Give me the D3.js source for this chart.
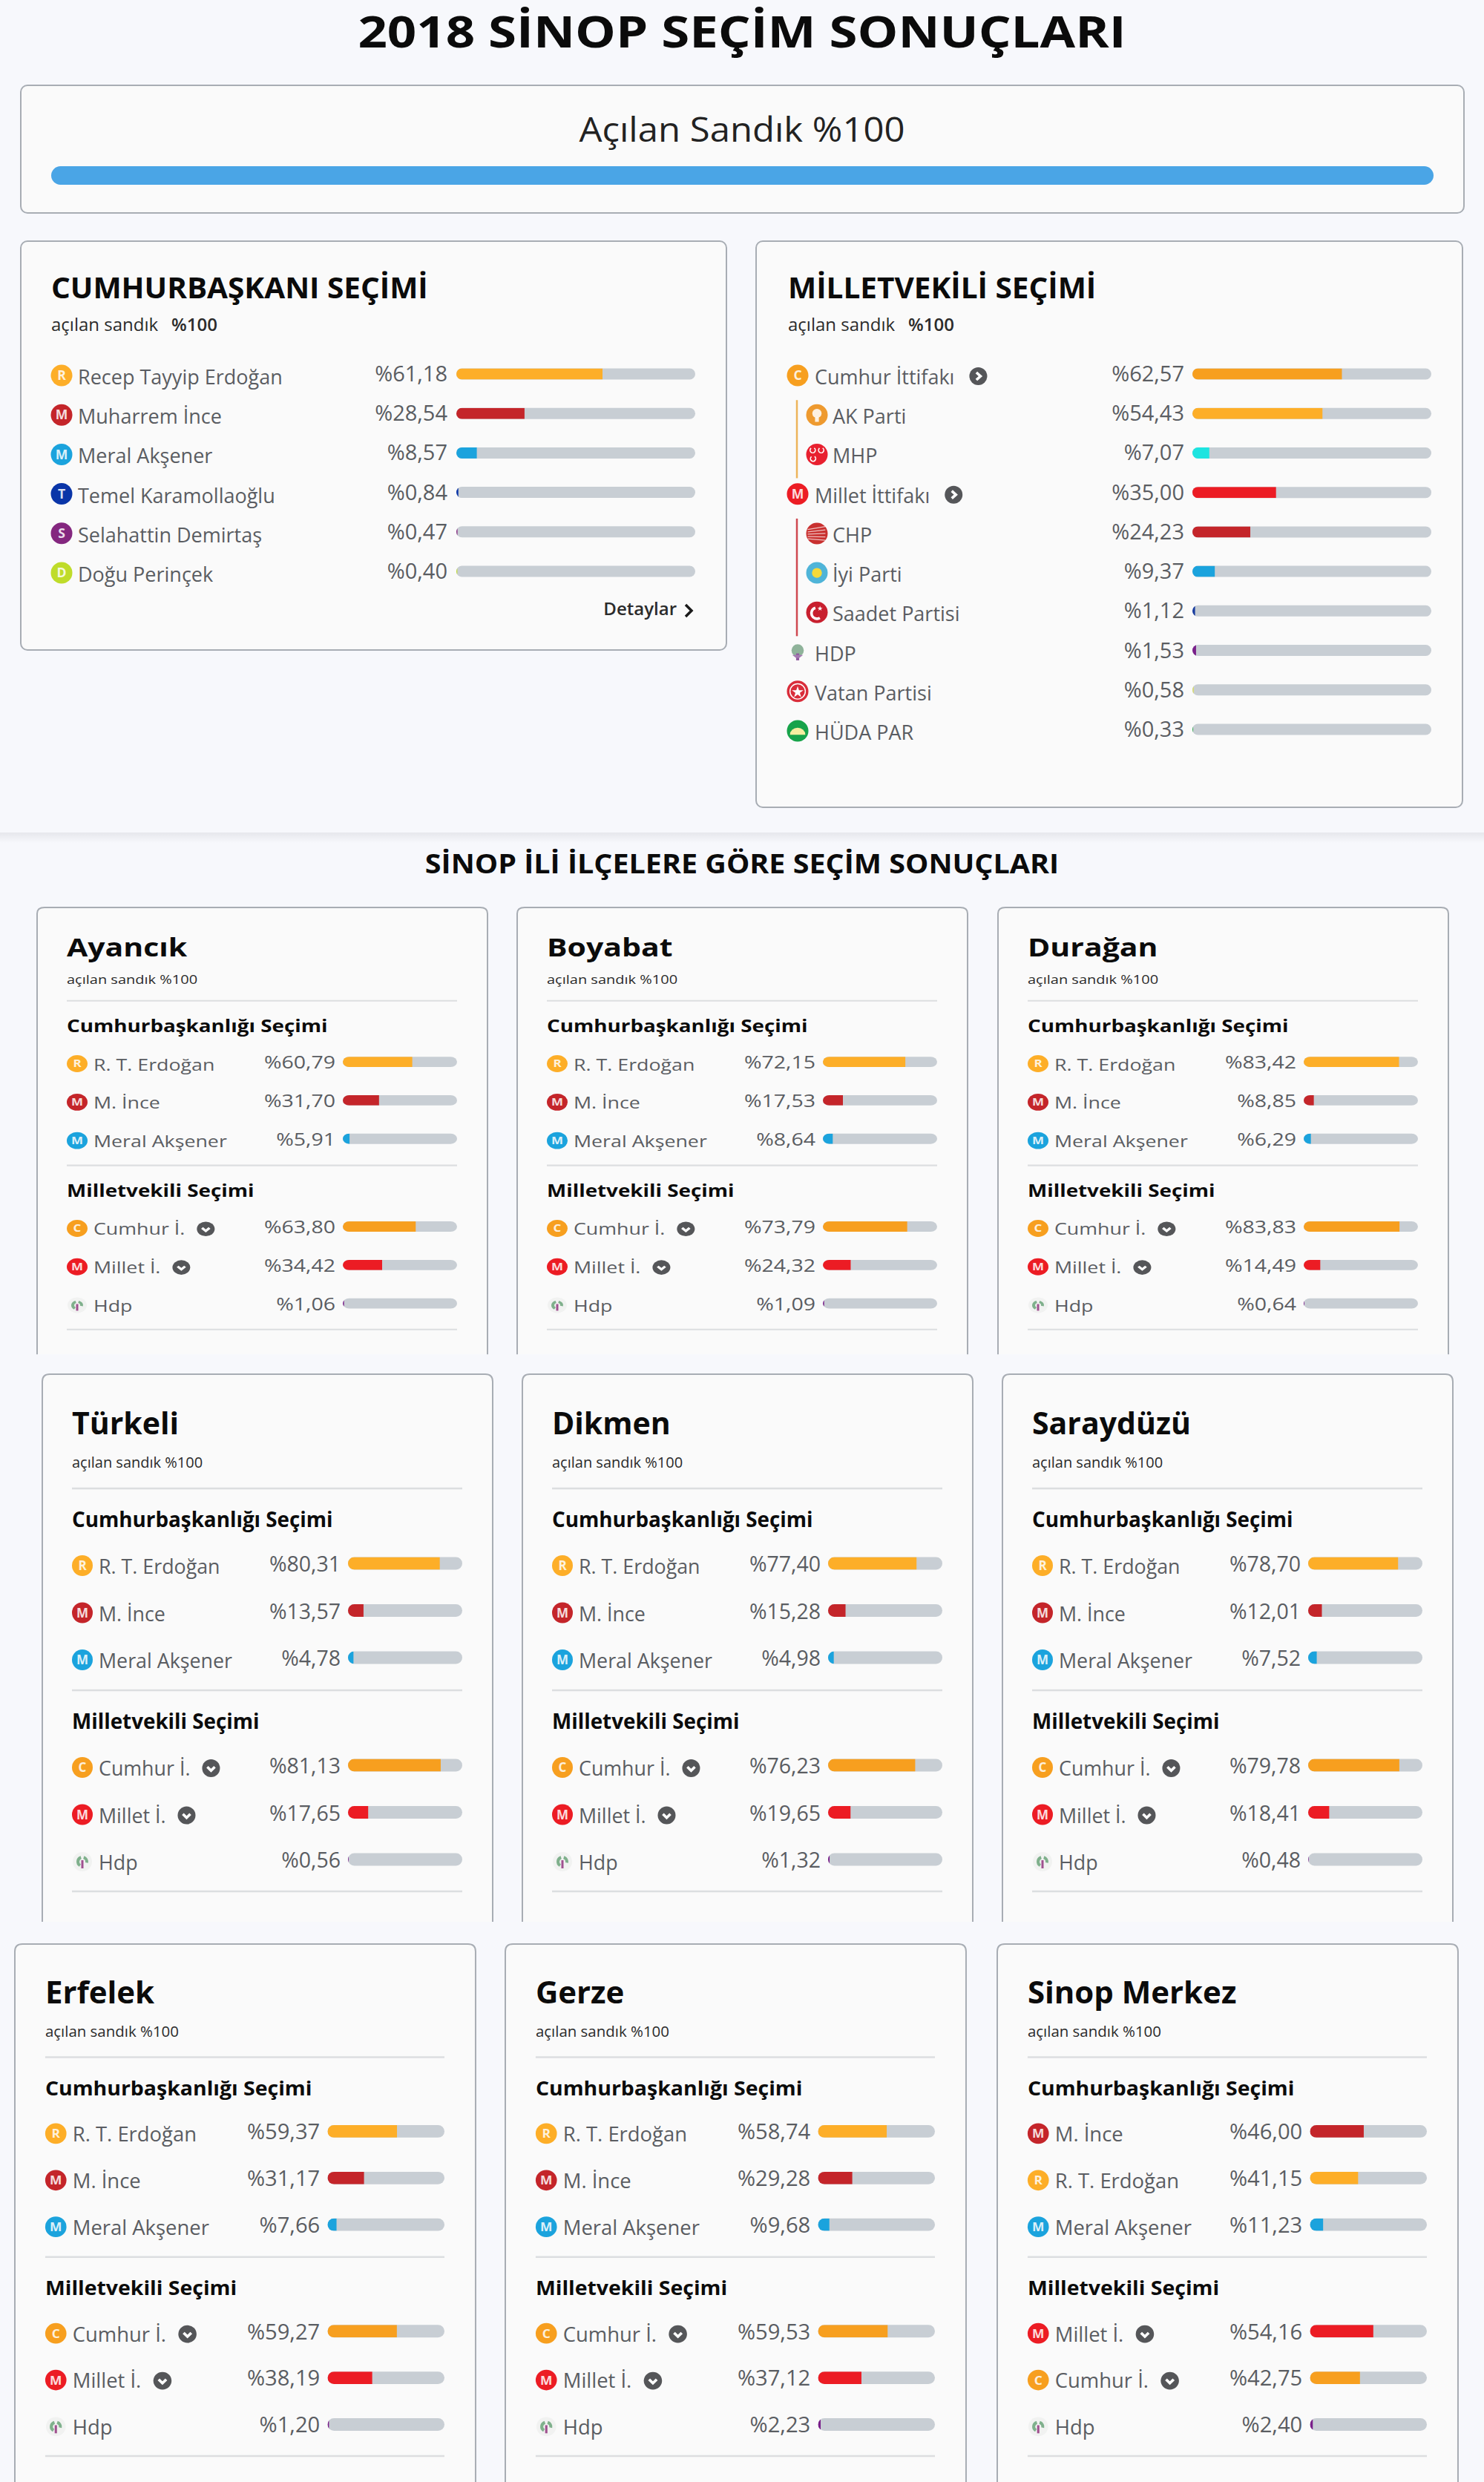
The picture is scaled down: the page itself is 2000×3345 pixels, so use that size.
<!DOCTYPE html>
<html lang="tr">
<head>
<meta charset="utf-8">
<title>2018 Sinop Seçim Sonuçları</title>
<script src="https://cdn.jsdelivr.net/npm/d3@7"></script>
<style>
  html, body { margin: 0; padding: 0; background: #f7f8fc; }
  svg { display: block; font-family: "Open Sans", sans-serif; }
</style>
</head>
<body>
<svg id="chart" width="2000" height="3345"></svg>
<script>
// values
const pageTitle = "2018 SİNOP SEÇİM SONUÇLARI";
const sectionTitle = "SİNOP İLİ İLÇELERE GÖRE SEÇİM SONUÇLARI";
const openedBallots = 100;

const presidentNames = ["Recep Tayyip Erdoğan", "Muharrem İnce", "Meral Akşener", "Temel Karamollaoğlu", "Selahattin Demirtaş", "Doğu Perinçek"];
const presidentValues = [61.18, 28.54, 8.57, 0.84, 0.47, 0.40];

const assemblyNames = ["Cumhur İttifakı", "AK Parti", "MHP", "Millet İttifakı", "CHP", "İyi Parti", "Saadet Partisi", "HDP", "Vatan Partisi", "HÜDA PAR"];
const assemblyValues = [62.57, 54.43, 7.07, 35.00, 24.23, 9.37, 1.12, 1.53, 0.58, 0.33];
const assemblyParents = ["", "Cumhur İttifakı", "Cumhur İttifakı", "", "Millet İttifakı", "Millet İttifakı", "Millet İttifakı", "", "", ""];

const districts = ["Ayancık", "Boyabat", "Durağan", "Türkeli", "Dikmen", "Saraydüzü", "Erfelek", "Gerze", "Sinop Merkez"];
const districtPresidentNames = ["R. T. Erdoğan", "M. İnce", "Meral Akşener"];
const districtPresidentValues = [
  [60.79, 31.70, 5.91],
  [72.15, 17.53, 8.64],
  [83.42, 8.85, 6.29],
  [80.31, 13.57, 4.78],
  [77.40, 15.28, 4.98],
  [78.70, 12.01, 7.52],
  [59.37, 31.17, 7.66],
  [58.74, 29.28, 9.68],
  [41.15, 46.00, 11.23],
];
const districtAssemblyNames = ["Cumhur İ.", "Millet İ.", "Hdp"];
const districtAssemblyValues = [
  [63.80, 34.42, 1.06],
  [73.79, 24.32, 1.09],
  [83.83, 14.49, 0.64],
  [81.13, 17.65, 0.56],
  [76.23, 19.65, 1.32],
  [79.78, 18.41, 0.48],
  [59.27, 38.19, 1.20],
  [59.53, 37.12, 2.23],
  [42.75, 54.16, 2.40],
];

// colours and icons per name
const looks = {
  "Recep Tayyip Erdoğan": { color: "#fdae28", icon: "R" },
  "Muharrem İnce": { color: "#c4252a", icon: "M" },
  "Meral Akşener": { color: "#1ba3dd", icon: "M" },
  "Temel Karamollaoğlu": { color: "#0a35a8", icon: "T" },
  "Selahattin Demirtaş": { color: "#84277f", icon: "S" },
  "Doğu Perinçek": { color: "#bfdc2a", icon: "D" },
  "Cumhur İttifakı": { color: "#f79f1f", icon: "C", button: "right" },
  "AK Parti": { color: "#fdae28", icon: "ak", disc: "#ee9a2f" },
  "MHP": { color: "#1de4e0", icon: "mhp", disc: "#e8202f" },
  "Millet İttifakı": { color: "#ec1c24", icon: "M", button: "right" },
  "CHP": { color: "#c4252a", icon: "chp", disc: "#c9302f" },
  "İyi Parti": { color: "#1ba3dd", icon: "iyi", disc: "#4fb4d8" },
  "Saadet Partisi": { color: "#1a3da0", icon: "saadet", disc: "#c8202f" },
  "HDP": { color: "#7a1f8a", icon: "hdp" },
  "Vatan Partisi": { color: "#d8dc70", icon: "vatan", disc: "#d92d3a" },
  "HÜDA PAR": { color: "#2aa84a", icon: "huda", disc: "#17a34a" },
  "R. T. Erdoğan": { color: "#fdae28", icon: "R" },
  "M. İnce": { color: "#c4252a", icon: "M" },
  "Cumhur İ.": { color: "#f79f1f", icon: "C", button: "down" },
  "Millet İ.": { color: "#ec1c24", icon: "M", button: "down" },
  "Hdp": { color: "#7a1f8a", icon: "hdpSmall" },
};

const TEXT_DARK = "#0b0b0b";
const TEXT_GREY = "#5a5d62";
const TRACK = "#c8ced4";
const BORDER = "#a8adb4";
const CARD_FILL = "#fafafa";
const RULE = "#dcdee0";

const svg = d3.select("#chart");
const defs = svg.append("defs");
let clipCount = 0;

const pct = d3.format(".2f");
const percentLabel = (v) => "%" + pct(v).replace(".", ",");

// ---- small drawing helpers ----

function addText(g, str, x, y, size, weight, fill, anchor) {
  return g.append("text")
    .attr("x", x).attr("y", y)
    .attr("font-size", size)
    .attr("font-weight", weight)
    .attr("fill", fill)
    .attr("text-anchor", anchor || "start")
    .text(str);
}

// the picture's big headings are wider than the font, so stretch them sideways
function addWideText(g, str, x, y, size, stretch, weight, fill, anchor) {
  return addText(g, str, 0, 0, size, weight, fill, anchor)
    .attr("transform", `translate(${x},${y}) scale(${stretch},1)`);
}

function addBar(g, value, x0, x1, cy, h, color) {
  const x = d3.scaleLinear().domain([0, 100]).range([x0, x1]);
  const id = "barclip" + clipCount++;
  defs.append("clipPath").attr("id", id).append("rect")
    .attr("x", x0).attr("y", cy - h / 2)
    .attr("width", x1 - x0).attr("height", h).attr("rx", h / 2);
  g.append("rect")
    .attr("x", x0).attr("y", cy - h / 2)
    .attr("width", x1 - x0).attr("height", h).attr("rx", h / 2)
    .attr("fill", TRACK);
  g.append("rect")
    .attr("clip-path", `url(#${id})`)
    .attr("x", x0).attr("y", cy - h / 2)
    .attr("width", x(value) - x0).attr("height", h)
    .attr("fill", color);
}

function addIcon(g, name, cx, cy, r) {
  const look = looks[name];
  const icon = g.append("g").attr("transform", `translate(${cx},${cy}) scale(${r / 14})`);
  const white = "#ffffff";
  if (look.icon.length === 1) {
    icon.append("circle").attr("r", 14).attr("fill", look.color);
    icon.append("text").attr("y", 6).attr("text-anchor", "middle")
      .attr("font-size", 17).attr("font-weight", 700).attr("fill", "#fff").attr("fill-opacity", 0.85)
      .text(look.icon);
    return;
  }
  const arc = d3.arc();
  if (look.disc) icon.append("circle").attr("r", 14).attr("fill", look.disc);
  if (look.icon === "ak") {
    icon.append("circle").attr("cy", -2).attr("r", 6).attr("fill", white).attr("fill-opacity", 0.85);
    icon.append("rect").attr("x", -2.5).attr("y", 3).attr("width", 5).attr("height", 6).attr("fill", white).attr("fill-opacity", 0.85);
  } else if (look.icon === "mhp") {
    [[-5.5, -5.5], [5.5, -5.5], [-5, 5.5]].forEach(([dx, dy]) => {
      icon.append("path")
        .attr("d", arc({ innerRadius: 2.6, outerRadius: 4.2, startAngle: 0.6, endAngle: 5.6 }))
        .attr("transform", `translate(${dx},${dy})`)
        .attr("fill", white);
    });
  } else if (look.icon === "chp") {
    d3.range(5).forEach((i) => {
      icon.append("line").attr("x1", -12).attr("x2", 11)
        .attr("y1", -5 + i * 3).attr("y2", -9 + i * 4.5)
        .attr("stroke", white).attr("stroke-opacity", 0.7).attr("stroke-width", 1.2);
    });
  } else if (look.icon === "iyi") {
    icon.append("circle").attr("r", 6.5).attr("fill", "#f5d93a");
  } else if (look.icon === "saadet") {
    icon.append("path")
      .attr("d", arc({ innerRadius: 5.5, outerRadius: 9, startAngle: 2.6, endAngle: 6 }))
      .attr("transform", "translate(0,1)").attr("fill", white);
    icon.append("path").attr("d", d3.symbol(d3.symbolStar, 14)()).attr("transform", "translate(4,-5)").attr("fill", white);
  } else if (look.icon === "hdp") {
    icon.append("circle").attr("cy", -2).attr("r", 8).attr("fill", "#8fb39a");
    icon.append("rect").attr("x", -2).attr("y", 2).attr("width", 4).attr("height", 9).attr("fill", "#8f5a9e");
    icon.append("path").attr("d", "M-7,4 H7 L2,8 H-2 Z").attr("fill", "#a57ab2");
  } else if (look.icon === "hdpSmall") {
    icon.append("circle").attr("r", 13).attr("fill", "#f1f2f1");
    icon.append("path").attr("d", arc({ innerRadius: 4, outerRadius: 8, startAngle: -2.6, endAngle: -0.3 })).attr("fill", "#7fb08c");
    icon.append("path").attr("d", arc({ innerRadius: 4, outerRadius: 8, startAngle: 0.3, endAngle: 1.8 })).attr("fill", "#7fb08c");
    icon.append("rect").attr("x", -1.5).attr("y", -2).attr("width", 3).attr("height", 11).attr("fill", "#a0508f");
  } else if (look.icon === "vatan") {
    icon.append("circle").attr("r", 10).attr("fill", "none").attr("stroke", white).attr("stroke-width", 1.4);
    icon.append("path").attr("d", d3.symbol(d3.symbolStar, 70)()).attr("transform", "translate(0,1)").attr("fill", white);
  } else if (look.icon === "huda") {
    icon.append("path").attr("d", "M-10,5 A10,9 0 0 1 10,5 Z").attr("fill", "#f6eea0");
  }
}

function addButton(g, dir, cx, cy, r) {
  g.append("circle").attr("cx", cx).attr("cy", cy).attr("r", r).attr("fill", "#555659");
  const s = r * 0.42;
  const d = dir === "right"
    ? `M${cx - s * 0.5},${cy - s} L${cx + s * 0.6},${cy} L${cx - s * 0.5},${cy + s}`
    : `M${cx - s},${cy - s * 0.35} L${cx},${cy + s * 0.65} L${cx + s},${cy - s * 0.35}`;
  g.append("path").attr("d", d).attr("fill", "none").attr("stroke", "#fff").attr("stroke-width", r * 0.3);
}

// one result row: icon, name, value, bar
function addRow(g, name, value, cy, m) {
  const look = looks[name];
  const iconX = m.indent ? m.subIconX : m.iconX;
  const labelX = m.indent ? m.subLabelX : m.labelX;
  addIcon(g, name, iconX, cy + m.iconDy, m.iconR);
  const label = addText(g, name, labelX, cy + m.labelDy, m.labelSize, 400, TEXT_GREY);
  addText(g, percentLabel(value), m.valueX, cy + m.valueDy, m.valueSize, 400, TEXT_GREY, "end");
  addBar(g, value, m.barX0, m.barX1, cy, m.barH, look.color);
  if (look.button) {
    const end = labelX + label.node().getComputedTextLength();
    addButton(g, look.button, end + m.buttonGap, cy + m.iconDy + 1, m.buttonR);
  }
}

function addPanel(x, y, w, h) {
  svg.append("rect").attr("x", x).attr("y", y).attr("width", w).attr("height", h)
    .attr("rx", 9).attr("fill", CARD_FILL).attr("stroke", BORDER).attr("stroke-width", 2);
}

// ---- top of the page ----

addWideText(svg, pageTitle, 1000, 64, 60, 1.15, 700, TEXT_DARK, "middle");

addPanel(28, 115, 1945, 172);
addWideText(svg, `Açılan Sandık %${openedBallots}`, 1000, 191, 45, 1.09, 400, "#222", "middle");
const progress = d3.scaleLinear().domain([0, 100]).range([69, 1932]);
svg.append("rect").attr("x", progress(0)).attr("y", 224)
  .attr("width", progress(openedBallots) - progress(0)).attr("height", 25)
  .attr("rx", 12.5).attr("fill", "#4aa5e6");

// ---- president panel ----

const panelMetrics = {
  iconR: 14.5, iconDy: 2, labelSize: 27, valueSize: 29, labelDy: 14, valueDy: 10,
  barH: 15, buttonGap: 32, buttonR: 12,
};

addPanel(28, 325, 951, 551);
const pres = svg.append("g");
addWideText(pres, "CUMHURBAŞKANI SEÇİMİ", 69, 402, 38.5, 1.052, 700, TEXT_DARK);
addText(pres, "açılan sandık", 69, 446, 24, 400, "#2b2b2b");
addText(pres, `%${openedBallots}`, 231, 446, 24, 600, "#2b2b2b");
const presY = d3.scalePoint().domain(presidentNames).range([504, 770]);
presidentNames.forEach((name, i) => {
  addRow(pres, name, presidentValues[i], presY(name), {
    ...panelMetrics, iconX: 83, labelX: 105, valueX: 603, barX0: 615, barX1: 937,
  });
});
addText(pres, "Detaylar", 912, 829, 24, 600, "#2b2b2b", "end");
pres.append("path").attr("d", "M924,815 L932,823 L924,831")
  .attr("fill", "none").attr("stroke", "#1a1a1a").attr("stroke-width", 3.5);

// ---- assembly panel ----

addPanel(1019, 325, 952, 763);
const asm = svg.append("g");
addWideText(asm, "MİLLETVEKİLİ SEÇİMİ", 1062, 402, 38.5, 1.052, 700, TEXT_DARK);
addText(asm, "açılan sandık", 1062, 446, 24, 400, "#2b2b2b");
addText(asm, `%${openedBallots}`, 1224, 446, 24, 600, "#2b2b2b");
const asmY = d3.scalePoint().domain(assemblyNames).range([504, 983]);
assemblyNames.forEach((name, i) => {
  addRow(asm, name, assemblyValues[i], asmY(name), {
    ...panelMetrics, iconX: 1075, labelX: 1098, subIconX: 1101, subLabelX: 1122,
    valueX: 1596, barX0: 1607, barX1: 1929, indent: assemblyParents[i] !== "",
  });
});
// alliance side lines
["Cumhur İttifakı", "Millet İttifakı"].forEach((parent) => {
  const members = assemblyNames.filter((n, i) => assemblyParents[i] === parent);
  asm.append("line").attr("x1", 1074).attr("x2", 1074)
    .attr("y1", asmY(members[0]) - 18).attr("y2", asmY(members[members.length - 1]) + 34)
    .attr("stroke", parent === "Cumhur İttifakı" ? "#edb45a" : "#cf4850").attr("stroke-width", 2.5);
});

// ---- section heading ----

const shade = defs.append("linearGradient").attr("id", "shade").attr("x1", 0).attr("x2", 0).attr("y1", 0).attr("y2", 1);
shade.append("stop").attr("offset", 0).attr("stop-color", "#e6e7ec");
shade.append("stop").attr("offset", 1).attr("stop-color", "#f7f8fc");
svg.append("rect").attr("x", 0).attr("y", 1122).attr("width", 2000).attr("height", 14).attr("fill", "url(#shade)");
addWideText(svg, sectionTitle, 1000, 1177, 36, 1.097, 700, TEXT_DARK, "middle");

// ---- district cards ----

// cards are drawn in one frame and stretched per row, as in the stitched picture
const CARD_W = 607;
const CARD_H = 738;
const cardRows = [
  { xs: [50, 697, 1345], y: 1223, sx: 1, sy: 0.816 },
  { xs: [57, 704, 1351], y: 1852, sx: 1, sy: 1 },
  { xs: [20, 681, 1344], y: 2620, sx: 1.023, sy: 0.99 },
];
const cardMetrics = {
  iconX: 54, labelX: 76, valueX: 402, barX0: 412, barX1: 566,
  iconR: 14, iconDy: 3, labelSize: 26.8, valueSize: 28.5, labelDy: 14, valueDy: 11,
  barH: 17, buttonGap: 28, buttonR: 12,
};

function addRule(g, y) {
  g.append("line").attr("x1", 40).attr("x2", 566).attr("y1", y).attr("y2", y)
    .attr("stroke", RULE).attr("stroke-width", 2.5);
}

function addCard(d, i) {
  const row = cardRows[Math.floor(i / 3)];
  const g = svg.append("g")
    .attr("transform", `translate(${row.xs[i % 3]},${row.y}) scale(${row.sx},${row.sy})`);
  g.append("path")
    .attr("d", `M0,${CARD_H} V10 Q0,0 10,0 H${CARD_W - 10} Q${CARD_W},0 ${CARD_W},10 V${CARD_H}`)
    .attr("fill", CARD_FILL).attr("stroke", BORDER).attr("stroke-width", 2)
    .attr("vector-effect", "non-scaling-stroke");
  addText(g, d, 40, 81, 41, 700, TEXT_DARK);
  addText(g, `açılan sandık %${openedBallots}`, 40, 126, 20, 400, "#2b2b2b");
  addRule(g, 154);
  addText(g, "Cumhurbaşkanlığı Seçimi", 40, 206, 27.8, 700, TEXT_DARK);

  // highest result on top
  const presRows = districtPresidentNames
    .map((name, k) => ({ name, value: districtPresidentValues[i][k] }))
    .sort((a, b) => d3.descending(a.value, b.value));
  const presY = d3.scalePoint().domain(presRows.map((r) => r.name)).range([255, 382]);
  presRows.forEach((r) => addRow(g, r.name, r.value, presY(r.name), cardMetrics));
  addRule(g, 426);

  addText(g, "Milletvekili Seçimi", 40, 478, 27.8, 700, TEXT_DARK);
  const asmRows = districtAssemblyNames
    .map((name, k) => ({ name, value: districtAssemblyValues[i][k] }))
    .sort((a, b) => d3.descending(a.value, b.value));
  const asmY = d3.scalePoint().domain(asmRows.map((r) => r.name)).range([527, 654]);
  asmRows.forEach((r) => addRow(g, r.name, r.value, asmY(r.name), cardMetrics));
  addRule(g, 697);
}

districts.forEach(addCard);
</script>
</body>
</html>
